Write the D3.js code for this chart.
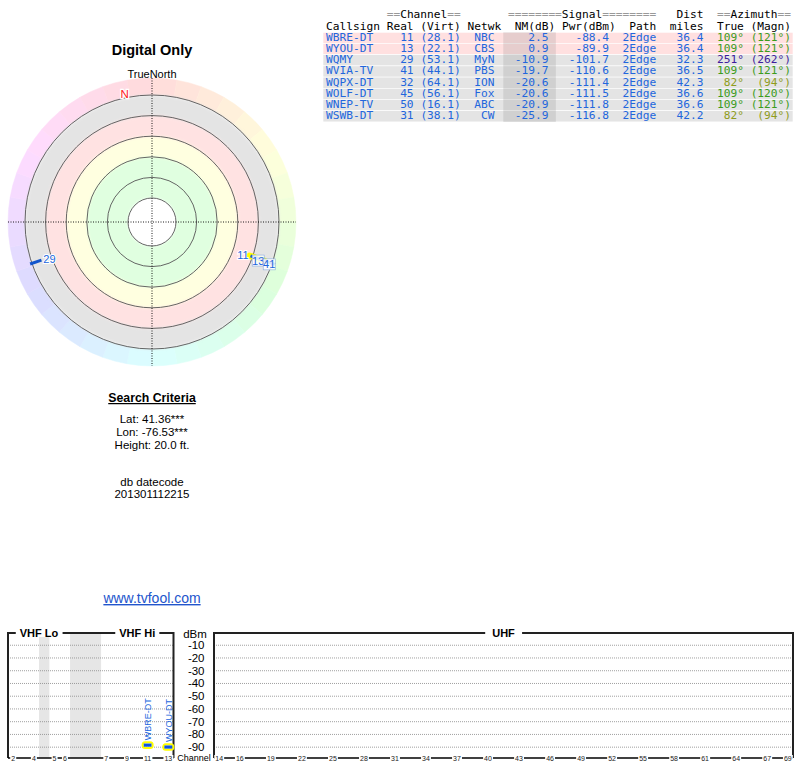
<!DOCTYPE html>
<meta charset="utf-8">
<script src="https://d3js.org/d3.v7.min.js"></script>
<style>
  body { margin: 0; background: #fff; }
  text { font-family: "Liberation Sans", Arial, sans-serif; }
  .mono text { font-family: "DejaVu Sans Mono", monospace; font-size: 11.2px; }
</style>
<body>
<svg id="chart" width="800" height="768"></svg>
<script>

// station list
var callsigns = ["WBRE-DT", "WYOU-DT", "WQMY", "WVIA-TV", "WQPX-DT", "WOLF-DT", "WNEP-TV", "WSWB-DT"];
var realCh    = [11, 13, 29, 41, 32, 45, 50, 31];
var virtCh    = ["28.1", "22.1", "53.1", "44.1", "64.1", "56.1", "16.1", "38.1"];
var networks  = ["NBC", "CBS", "MyN", "PBS", "ION", "Fox", "ABC", "CW"];
var nmDb      = [2.5, 0.9, -10.9, -19.7, -20.6, -20.6, -20.9, -25.9];
var pwrDbm    = [-88.4, -89.9, -101.7, -110.6, -111.4, -111.5, -111.8, -116.8];
var paths     = ["2Edge", "2Edge", "2Edge", "2Edge", "2Edge", "2Edge", "2Edge", "2Edge"];
var distMiles = [36.4, 36.4, 32.3, 36.5, 42.3, 36.6, 36.6, 42.2];
var azTrue    = [109, 109, 251, 109, 82, 109, 109, 82];
var azMagn    = [121, 121, 262, 121, 94, 120, 121, 94];

// axis labels
var dbmTicks  = [-10, -20, -30, -40, -50, -60, -70, -80, -90];
var vhfTicks  = [2, 4, 5, 6, 7, 9, 11, 13];
var uhfTicks  = [14, 16, 19, 22, 25, 28, 31, 34, 37, 40, 43, 46, 49, 52, 55, 58, 61, 64, 67, 69];
var searchLines = ["Lat: 41.36***", "Lon: -76.53***", "Height: 20.0 ft."];

var blue = "#2266dd";

var stations = callsigns.map(function(c, i) {
  return { call: c, ch: realCh[i], virt: virtCh[i], net: networks[i], nm: nmDb[i],
           pwr: pwrDbm[i], path: paths[i], dist: distMiles[i], az: azTrue[i], mag: azMagn[i] };
});

var svg = d3.select("#chart");

// ---------------- polar plot ----------------
var cx = 152, cy = 222;
var rad = Math.PI / 180;
function px(a, r) { return cx + r * Math.sin(a * rad); }
function py(a, r) { return cy - r * Math.cos(a * rad); }

var ringR = d3.scaleLinear().domain([0, 5]).range([24, 127]);
// where a station sits by noise margin
var rScale = d3.scaleLinear().domain([-20, -11, 0, 3]).range([124, 123, 113.5, 109.5]).clamp(true);

var polar = svg.append("g");

// hue ring
var hueArc = d3.arc().innerRadius(127).outerRadius(144)
  .startAngle(function(d) { return d * rad; })
  .endAngle(function(d) { return (d + 10) * rad; });
polar.append("g").attr("transform", "translate(" + cx + "," + cy + ")")
  .selectAll("path").data(d3.range(0, 360, 10)).enter().append("path")
    .attr("d", hueArc)
    .attr("fill", function(d) { return d3.hsl(d + 5, 1, 0.93); })
    .attr("stroke", function(d) { return d3.hsl(d + 5, 1, 0.93); })
    .attr("stroke-width", 0.5);

// signal bands
var defs = svg.append("defs");
defs.append("filter").attr("id", "soft").append("feGaussianBlur").attr("stdDeviation", 1.6);
var bandFills = ["#e0ffe0", "#e0ffe0", "#ffffe0", "#ffe2e2", "#e4e4e4"];
var bandArc = d3.arc()
  .innerRadius(function(d, i) { return ringR(i); })
  .outerRadius(function(d, i) { return ringR(i + 1); })
  .startAngle(0).endAngle(2 * Math.PI);
var bands = polar.append("g").attr("transform", "translate(" + cx + "," + cy + ")").attr("filter", "url(#soft)");
bandFills.forEach(function(f, i) {
  bands.append("path").attr("d", bandArc(null, i)).attr("fill", f);
});
polar.append("circle").attr("cx", cx).attr("cy", cy).attr("r", ringR(0)).attr("fill", "#fff");

// rings
polar.selectAll(".ring").data(d3.range(0, 6)).enter().append("circle")
  .attr("cx", cx).attr("cy", cy).attr("r", function(d) { return ringR(d); })
  .attr("fill", "none").attr("stroke", "#555").attr("stroke-width", 0.9);

// cross hairs
polar.append("line").attr("x1", cx - 144).attr("x2", cx + 144).attr("y1", cy).attr("y2", cy)
  .attr("stroke", "#000").attr("stroke-width", 0.9).attr("stroke-dasharray", "1,1.5");
polar.append("line").attr("x1", cx).attr("x2", cx).attr("y1", cy - 144).attr("y2", cy + 144)
  .attr("stroke", "#000").attr("stroke-width", 0.9).attr("stroke-dasharray", "1,1.5");

// magnetic north
var decl = azTrue[0] - azMagn[0];
polar.append("text").attr("x", px(decl, 131)).attr("y", py(decl, 131) + 4)
  .attr("text-anchor", "middle").attr("font-size", 11.5)
  .attr("fill", "#ff2020").attr("stroke", "#fff").attr("stroke-width", 2.5)
  .attr("paint-order", "stroke").text("N");

// stations
var shown = stations.filter(function(s) { return s.nm > -20; });
shown.forEach(function(s) {
  var r = rScale(s.nm);
  if (s.nm > 0) {
    polar.append("line")
      .attr("x1", px(s.az, r - 7)).attr("y1", py(s.az, r - 7))
      .attr("x2", px(s.az, r + 7)).attr("y2", py(s.az, r + 7))
      .attr("stroke", "#ffff00").attr("stroke-width", 6).attr("stroke-linecap", "round");
  }
});
shown.forEach(function(s) {
  var r = rScale(s.nm);
  polar.append("line")
    .attr("x1", px(s.az, r - 6)).attr("y1", py(s.az, r - 6))
    .attr("x2", px(s.az, r + 6)).attr("y2", py(s.az, r + 6))
    .attr("stroke", "#1155cc").attr("stroke-width", 3);
});
var seen = {};
shown.forEach(function(s) {
  var r = rScale(s.nm);
  if (!seen[s.az]) {
    seen[s.az] = true;
    var lx = px(s.az, r - 8), ly = py(s.az, r - 8);
    polar.append("text").attr("x", lx).attr("y", ly + 4)
      .attr("text-anchor", lx > cx ? "end" : "start")
      .attr("font-size", 11).attr("fill", blue)
      .attr("stroke", "#fff").attr("stroke-width", 2).attr("paint-order", "stroke")
      .text(s.ch);
  } else {
    var mx = px(s.az, r), my = py(s.az, r) + 2;
    polar.append("rect").attr("x", mx - 6).attr("y", my - 5.5).attr("width", 12).attr("height", 11)
      .attr("fill", "#fff").attr("fill-opacity", 0.85).attr("stroke", "#88aadd").attr("stroke-width", 0.6);
    polar.append("text").attr("x", mx).attr("y", my + 4)
      .attr("text-anchor", "middle").attr("font-size", 11).attr("fill", blue)
      .text(s.ch);
  }
});

// titles round the plot
svg.append("text").attr("x", cx).attr("y", 54.5).attr("text-anchor", "middle")
  .attr("font-size", 14.5).attr("font-weight", "bold").text("Digital Only");
svg.append("text").attr("x", cx).attr("y", 78).attr("text-anchor", "middle")
  .attr("font-size", 11).text("TrueNorth");

// search criteria
svg.append("text").attr("x", cx).attr("y", 402).attr("text-anchor", "middle")
  .attr("font-size", 12.3).attr("font-weight", "bold").attr("text-decoration", "underline")
  .text("Search Criteria");
searchLines.forEach(function(t, i) {
  svg.append("text").attr("x", cx).attr("y", 423 + i * 13).attr("text-anchor", "middle")
    .attr("font-size", 11.5).text(t);
});
svg.append("text").attr("x", cx).attr("y", 486).attr("text-anchor", "middle")
  .attr("font-size", 11.5).text("db datecode");
svg.append("text").attr("x", cx).attr("y", 498).attr("text-anchor", "middle")
  .attr("font-size", 11.5).text("201301112215");
svg.append("text").attr("x", cx).attr("y", 603).attr("text-anchor", "middle")
  .attr("font-size", 14).attr("fill", "#2255cc").attr("text-decoration", "underline")
  .text("www.tvfool.com");

// ---------------- station table ----------------
var cw = 6.74, tx = 326;
function col(c) { return tx + c * cw; }
var rowH = 11.2, rowTop = 32.3, rowBase = 40.7;
var table = svg.append("g").attr("class", "mono");

table.selectAll(".row").data(stations).enter().append("rect")
  .attr("x", 323).attr("width", 470)
  .attr("y", function(d, i) { return rowTop + i * rowH; })
  .attr("height", rowH)
  .attr("fill", function(d) { return d.nm > 0 ? "#ffe0e0" : "#e4e4e4"; })
  .attr("stroke", "#fff").attr("stroke-width", 0.6);
table.append("rect").attr("x", col(26.3)).attr("width", col(34.1) - col(26.3))
  .attr("y", rowTop).attr("height", rowH * stations.length)
  .attr("fill", "#808080").attr("fill-opacity", 0.2);

function header(c, y, parts) {
  var t = table.append("text").attr("x", col(c)).attr("y", y).attr("xml:space", "preserve");
  parts.forEach(function(p) {
    t.append("tspan").attr("fill", p[0] === "=" ? "#999" : "#000").text(p);
  });
}
header(9, 18, ["==", "Channel", "=="]);
header(27, 18, ["========", "Signal", "========"]);
header(52, 18, ["Dist"]);
header(58, 18, ["==", "Azimuth", "=="]);
[["Callsign", 0], ["Real", 9], ["(Virt)", 14], ["Netwk", 21], ["NM(dB)", 28], ["Pwr(dBm)", 35],
 ["Path", 45], ["miles", 51], ["True", 58], ["(Magn)", 63]].forEach(function(h) {
  header(h[1], 29.5, [h[0]]);
});

var azHue = d3.scaleLinear().domain([0, 82, 109, 251, 360]).range([0, 66, 105, 256, 360]);
var cols = [
  { end: null, start: 0, f: function(d) { return d.call; } },
  { end: 13, f: function(d) { return d.ch; } },
  { end: 20, f: function(d) { return "(" + d.virt + ")"; } },
  { end: 25, f: function(d) { return d.net; } },
  { end: 33, f: function(d) { return d.nm.toFixed(1); } },
  { end: 42, f: function(d) { return d.pwr.toFixed(1); } },
  { end: 49, f: function(d) { return d.path; } },
  { end: 56, f: function(d) { return d.dist.toFixed(1); } },
  { end: 62, az: true, f: function(d) { return d.az + "°"; } },
  { end: 69, az: true, f: function(d) { return "(" + d.mag + "°)"; } }
];
cols.forEach(function(c) {
  table.selectAll(null).data(stations).enter().append("text")
    .attr("x", c.end === null ? col(c.start) : col(c.end))
    .attr("y", function(d, i) { return rowBase + i * rowH; })
    .attr("text-anchor", c.end === null ? "start" : "end")
    .attr("fill", function(d) { return c.az ? d3.hsl(azHue(d.az), 0.7, 0.36) : blue; })
    .text(c.f);
});

// ---------------- spectrum ----------------
var y = d3.scaleLinear().domain([0, -98.5]).range([632.5, 758]);
var xV = d3.scaleLinear().domain([0, 16]).range([8, 173.5]);
var xU = d3.scaleLinear().domain([14, 70]).range([214, 793]);
function vSlot(ch) { return ch <= 4 ? ch - 2 : (ch <= 6 ? ch - 1 : ch + 2); }
function xCh(ch) { return ch <= 13 ? xV(vSlot(ch) + 0.5) : xU(ch + 0.5); }

var spec = svg.append("g");
spec.append("rect").attr("x", xV(3)).attr("width", xV(4) - xV(3)).attr("y", 633).attr("height", 125).attr("fill", "#e6e6e6");
spec.append("rect").attr("x", xV(6)).attr("width", xV(9) - xV(6)).attr("y", 633).attr("height", 125).attr("fill", "#e6e6e6");

dbmTicks.forEach(function(v) {
  [[xV(0), xV(16)], [xU(14), xU(70)]].forEach(function(r) {
    spec.append("line").attr("x1", r[0]).attr("x2", r[1]).attr("y1", y(v)).attr("y2", y(v))
      .attr("stroke", "#888").attr("stroke-width", 0.8).attr("stroke-dasharray", "1,1");
  });
  spec.append("text").attr("x", 204.5).attr("y", y(v) + 4).attr("text-anchor", "end")
    .attr("font-size", 11.5).text(v);
});
spec.append("text").attr("x", 195).attr("y", 637.5).attr("text-anchor", "middle")
  .attr("font-size", 11.5).text("dBm");

// frames
spec.append("path").attr("d", "M" + xV(0) + ",758V633H" + xV(16) + "V758")
  .attr("fill", "none").attr("stroke", "#222").attr("stroke-width", 2);
spec.append("path").attr("d", "M" + xU(14) + ",758V633H" + xU(70) + "V758")
  .attr("fill", "none").attr("stroke", "#222").attr("stroke-width", 2);
spec.append("line").attr("x1", xV(0)).attr("x2", xV(16)).attr("y1", 758).attr("y2", 758)
  .attr("stroke", "#000").attr("stroke-width", 1.6);
spec.append("line").attr("x1", xU(14)).attr("x2", xU(70)).attr("y1", 758).attr("y2", 758)
  .attr("stroke", "#000").attr("stroke-width", 1.6);

// label with a white patch behind it that breaks the frame line
function patchedLabel(x, yb, t, size, bold, padX, patchY, patchH) {
  var g = spec.append("g");
  var bg = g.append("rect").attr("fill", "#fff");
  var lab = g.append("text").attr("x", x).attr("y", yb).attr("text-anchor", "middle")
    .attr("font-size", size).attr("font-weight", bold ? "bold" : null).text(t);
  if (!bold) lab.attr("font-family", "DejaVu Sans").attr("fill", "#222");
  var b = lab.node().getBBox();
  bg.attr("x", b.x - padX).attr("y", patchY).attr("width", b.width + 2 * padX).attr("height", patchH);
}
patchedLabel((xV(0) + xV(6)) / 2, 637, "VHF Lo", 11, true, 4, 629, 8);
patchedLabel((xV(9) + xV(16)) / 2, 637, "VHF Hi", 11, true, 4, 629, 8);
patchedLabel((xU(14) + xU(70)) / 2, 637, "UHF", 11, true, 7, 629, 8);
vhfTicks.concat(uhfTicks).forEach(function(c) {
  patchedLabel(xCh(c), 760.5, c, 7, false, 1, 755, 6);
});
spec.append("text").attr("x", 194).attr("y", 761).attr("text-anchor", "middle")
  .attr("font-size", 9).text("Channel");

// bars
var onSpec = stations.filter(function(s) { return s.pwr >= -98; });
onSpec.forEach(function(s) {
  var bx = xCh(s.ch), by = y(s.pwr);
  if (s.nm > 0) {
    spec.append("rect").attr("x", bx - 5).attr("y", by - 2.8).attr("width", 10).attr("height", 5.6)
      .attr("rx", 2.5).attr("fill", "none").attr("stroke", "#ffff00").attr("stroke-width", 2);
  }
  spec.append("rect").attr("x", bx - 3.9).attr("y", by - 1.6).attr("width", 7.8).attr("height", 3.2)
    .attr("fill", "#1155dd");
  spec.append("text")
    .attr("transform", "translate(" + (bx + 3.3) + "," + (by - 5) + ") rotate(-90)")
    .attr("font-size", 9).attr("fill", blue).text(s.call);
});

</script>
</body>
